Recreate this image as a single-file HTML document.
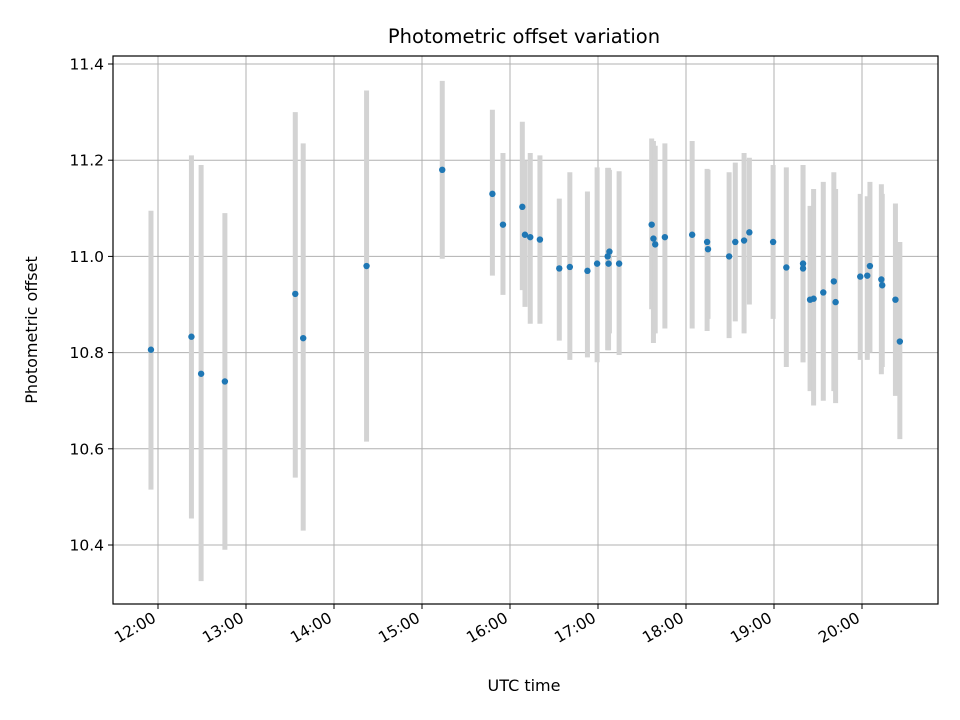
<!DOCTYPE html>
<html><head><meta charset="utf-8"><style>
html,body{margin:0;padding:0;background:#fff;}
svg{display:block;font-family:"DejaVu Sans","Liberation Sans",sans-serif;}
</style></head><body>
<svg id="chart" width="960" height="720" viewBox="0 0 960 720">
<rect x="0" y="0" width="960" height="720" fill="#fff"/>
<g id="grid"></g>
<g id="bars"></g>
<g id="pts"></g>
<rect x="113" y="56" width="825" height="548" fill="none" stroke="#000" stroke-width="1.2"/>
<g id="axes"></g>
<text x="524" y="43" text-anchor="middle" font-size="19.5">Photometric offset variation</text>
<text x="524" y="691" text-anchor="middle" font-size="16">UTC time</text>
<text x="37" y="330" text-anchor="middle" font-size="16" transform="rotate(-90 37 330)">Photometric offset</text>
</svg>
<script>
const times = [11.92,12.38,12.49,12.76,13.56,13.65,14.37,15.23,15.80,15.92,16.14,16.17,16.23,16.34,16.56,16.68,16.88,16.99,17.11,17.13,17.12,17.24,17.61,17.63,17.65,17.76,18.07,18.24,18.25,18.49,18.56,18.66,18.72,18.99,19.14,19.33,19.33,19.41,19.45,19.56,19.68,19.70,19.98,20.06,20.09,20.22,20.23,20.38,20.43];
const values = [10.806,10.833,10.756,10.74,10.922,10.830,10.98,11.18,11.13,11.066,11.103,11.045,11.04,11.035,10.975,10.978,10.97,10.985,11.0,11.01,10.985,10.985,11.066,11.037,11.025,11.04,11.045,11.03,11.015,11.0,11.03,11.033,11.05,11.03,10.977,10.985,10.975,10.91,10.912,10.925,10.948,10.905,10.958,10.96,10.98,10.952,10.94,10.91,10.823];
const lows = [10.515,10.455,10.325,10.39,10.54,10.43,10.615,10.995,10.96,10.92,10.93,10.895,10.86,10.86,10.825,10.785,10.79,10.78,10.805,10.84,10.805,10.795,10.89,10.82,10.84,10.85,10.85,10.845,10.87,10.83,10.865,10.84,10.90,10.87,10.77,10.78,10.78,10.72,10.69,10.70,10.72,10.695,10.785,10.785,10.80,10.755,10.77,10.71,10.62];
const highs = [11.095,11.21,11.19,11.09,11.30,11.235,11.345,11.365,11.305,11.215,11.28,11.20,11.215,11.21,11.12,11.175,11.135,11.185,11.184,11.18,11.184,11.177,11.245,11.24,11.23,11.235,11.24,11.182,11.18,11.175,11.195,11.215,11.205,11.19,11.185,11.19,11.19,11.105,11.14,11.155,11.175,11.14,11.13,11.125,11.155,11.15,11.13,11.11,11.03];
const yTicks = [10.4,10.6,10.8,11.0,11.2,11.4];
const yTickLabels = ["10.4","10.6","10.8","11.0","11.2","11.4"];
const xTicks = [12,13,14,15,16,17,18,19,20];
const xTickLabels = ["12:00","13:00","14:00","15:00","16:00","17:00","18:00","19:00","20:00"];

const NS="http://www.w3.org/2000/svg";
const X = h => 158 + (h-12)*88;
const Y = v => 545 - (v-10.4)*481;
function mk(parent, tag, attrs){const e=document.createElementNS(NS,tag);for(const k in attrs)e.setAttribute(k,attrs[k]);document.getElementById(parent).appendChild(e);return e;}

yTicks.forEach((t,i)=>{
  const y=Y(t);
  const g=mk('grid','line',{x1:113,x2:938,y1:y,y2:y,stroke:'#b0b0b0','stroke-width':1});
  
  
  const tk=mk('axes','line',{x1:108,x2:113,y1:y,y2:y,stroke:'#000','stroke-width':1});
  
  
  const tx=mk('axes','text',{x:104,y:y+5.5,'text-anchor':'end','font-size':15.5});
  tx.textContent=yTickLabels[i];
  
  
});
xTicks.forEach((t,i)=>{
  const x=X(t);
  const g=mk('grid','line',{x1:x,x2:x,y1:56,y2:604,stroke:'#b0b0b0','stroke-width':1});
  
  
  const tk=mk('axes','line',{x1:x,x2:x,y1:604,y2:609,stroke:'#000','stroke-width':1});
  
  
  const tx=mk('axes','text',{x:x-1,y:621,'text-anchor':'end','font-size':15.5,transform:`rotate(-30 ${x-1} 621)`});
  tx.textContent=xTickLabels[i];
  
  
});
times.forEach((t,i)=>{
  const b=mk('bars','line',{x1:X(t),x2:X(t),y1:Y(lows[i]),y2:Y(highs[i]),stroke:'#d3d3d3','stroke-width':5});
  
  
});
times.forEach((t,i)=>{
  const p=mk('pts','circle',{cx:X(t),cy:Y(values[i]),r:3.2,fill:'#1f77b4'});
  
  
});
</script>
</body></html>
